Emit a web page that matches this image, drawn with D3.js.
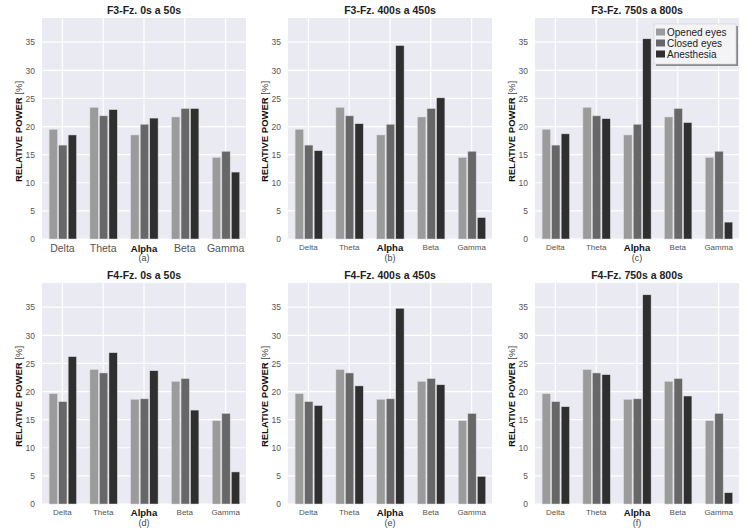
<!DOCTYPE html>
<html>
<head>
<meta charset="utf-8">
<script src="https://cdn.jsdelivr.net/npm/d3@7"></script>
<style>
  body { margin: 0; background: #fff; }
  svg { display: block; font-family: "Liberation Sans", Arial, sans-serif; }
</style>
</head>
<body>
<svg id="chart" width="752" height="532"></svg>
<script>
// bands and series
const bands = ["Delta", "Theta", "Alpha", "Beta", "Gamma"];
const series = ["Opened eyes", "Closed eyes", "Anesthesia"];
const titles = ["F3-Fz. 0s a 50s", "F3-Fz. 400s a 450s", "F3-Fz. 750s a 800s",
                "F4-Fz. 0s a 50s", "F4-Fz. 400s a 450s", "F4-Fz. 750s a 800s"];
const captions = ["(a)", "(b)", "(c)", "(d)", "(e)", "(f)"];
const yTicks = [0, 5, 10, 15, 20, 25, 30, 35];

// relative power [%]
const f3Opened = [19.5, 23.4, 18.5, 21.7, 14.5];
const f3Closed = [16.7, 21.9, 20.4, 23.2, 15.6];
const f3Anes0 = [18.5, 23.0, 21.5, 23.2, 11.9];
const f3Anes400 = [15.7, 20.5, 34.4, 25.1, 3.8];
const f3Anes750 = [18.7, 21.4, 35.6, 20.7, 3.0];
const f4Opened = [19.6, 23.9, 18.6, 21.8, 14.8];
const f4Closed = [18.2, 23.3, 18.7, 22.3, 16.1];
const f4Anes0 = [26.2, 26.9, 23.7, 16.7, 5.7];
const f4Anes400 = [17.5, 21.0, 34.8, 21.2, 4.9];
const f4Anes750 = [17.3, 23.0, 37.2, 19.2, 2.0];

const panels = [
  [f3Opened, f3Closed, f3Anes0],
  [f3Opened, f3Closed, f3Anes400],
  [f3Opened, f3Closed, f3Anes750],
  [f4Opened, f4Closed, f4Anes0],
  [f4Opened, f4Closed, f4Anes400],
  [f4Opened, f4Closed, f4Anes750]
];

const colors = ["#9b9b9b", "#676767", "#2f2f2f"];
const color = d3.scaleOrdinal().domain(series).range(colors);

const colLeft = [42, 288, 535];
const rowTop = [18, 283];
const pw = 204, ph = 221;
const yMax = 39.3;

const svg = d3.select("#chart");

panels.forEach((vals, p) => {
  const left = colLeft[p % 3], top = rowTop[Math.floor(p / 3)];
  const g = svg.append("g").attr("transform", `translate(${left},${top})`);

  const x = d3.scaleBand().domain(bands).range([0, pw]);
  const xs = d3.scaleBand().domain(series)
    .range([x.bandwidth() * 0.16, x.bandwidth() * 0.86]);
  const y = d3.scaleLinear().domain([0, yMax]).range([ph, 0]);

  g.append("rect").attr("width", pw).attr("height", ph).attr("fill", "#eaeaf2");

  // grid
  g.selectAll(".hg").data(yTicks).join("line")
    .attr("x1", 0).attr("x2", pw)
    .attr("y1", d => y(d)).attr("y2", d => y(d))
    .attr("stroke", "#fff").attr("stroke-width", 1.2);
  g.selectAll(".vg").data(bands).join("line")
    .attr("x1", d => x(d) + x.bandwidth() / 2).attr("x2", d => x(d) + x.bandwidth() / 2)
    .attr("y1", 0).attr("y2", ph)
    .attr("stroke", "#fff").attr("stroke-width", 1.2);

  // bars
  const groups = g.selectAll(".grp").data(bands).join("g")
    .attr("transform", d => `translate(${x(d)},0)`);
  groups.selectAll("rect")
    .data((b, i) => series.map((s, k) => ({ s, v: vals[k][i] })))
    .join("rect")
      .attr("x", d => xs(d.s) + 0.6)
      .attr("width", xs.bandwidth() - 1.2)
      .attr("y", d => y(d.v))
      .attr("height", d => ph - y(d.v))
      .attr("fill", d => color(d.s))
      .attr("stroke", "#d8d8de").attr("stroke-width", 0.5);

  // y axis
  const ya = g.append("g")
    .call(d3.axisLeft(y).tickValues(yTicks).tickSize(0).tickPadding(7));
  ya.select(".domain").remove();
  ya.selectAll("text").attr("fill", "#555").attr("font-size", 8.5)
    .attr("font-family", "Liberation Sans, Arial, sans-serif");

  // x axis
  const bigTicks = p === 0;
  const xa = g.append("g").attr("transform", `translate(0,${ph})`)
    .call(d3.axisBottom(x).tickSize(0).tickPadding(bigTicks ? 6 : 5));
  xa.select(".domain").remove();
  xa.selectAll("text")
    .attr("font-family", "Liberation Sans, Arial, sans-serif")
    .attr("fill", d => d === "Alpha" ? "#111" : "#555")
    .attr("font-weight", d => d === "Alpha" ? "bold" : "normal")
    .attr("font-size", d => d === "Alpha" ? 9.5 : (bigTicks ? 10.5 : 8));

  // y label
  const yl = g.append("text")
    .attr("transform", `translate(-20,${ph / 2 + 3}) rotate(-90)`)
    .attr("text-anchor", "middle")
    .attr("font-size", 9.5).attr("fill", "#111");
  yl.append("tspan").attr("font-weight", "bold").text("RELATIVE POWER ");
  yl.append("tspan").attr("fill", "#444").text(" [%]");

  // title and caption
  g.append("text").attr("x", pw / 2).attr("y", -4)
    .attr("text-anchor", "middle").attr("font-weight", "bold")
    .attr("font-size", 10.5).attr("fill", "#222").text(titles[p]);
  g.append("text").attr("x", pw / 2).attr("y", ph + 22)
    .attr("text-anchor", "middle").attr("font-size", 9).attr("fill", "#444")
    .text(captions[p]);

  // legend in panel (c)
  if (p === 2) {
    const lg = g.append("g").attr("transform", `translate(${pw - 85},6)`);
    lg.append("rect").attr("x", 2).attr("y", 2).attr("width", 82).attr("height", 40)
      .attr("fill", "#8a8a8a");
    lg.append("rect").attr("width", 82).attr("height", 40)
      .attr("fill", "#f4f4f6").attr("stroke", "#cfcfd4").attr("stroke-width", 0.6);
    const it = lg.selectAll(".it").data(series).join("g")
      .attr("transform", (d, i) => `translate(2,${8 + i * 11})`);
    it.append("rect").attr("y", -3.5).attr("width", 9).attr("height", 7)
      .attr("fill", d => color(d));
    it.append("text").attr("x", 11).attr("y", 3.5)
      .attr("font-size", 10).attr("fill", "#222").text(d => d);
  }
});
</script>
</body>
</html>
